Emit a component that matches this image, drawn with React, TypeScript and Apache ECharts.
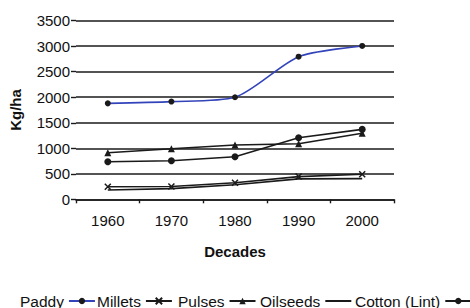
import React, { useEffect, useRef } from "react";
import * as echarts from "echarts";

const decades = ["1960", "1970", "1980", "1990", "2000"];
const seriesNames = ["Paddy", "Millets", "Pulses", "Oilseeds", "Cotton (Lint)"];
const paddy = [1880, 1915, 2000, 2795, 3005];
const millets = [247, 250, 325, 445, 490];
const pulses = [913, 990, 1065, 1090, 1295];
const oilseeds = [182, 210, 285, 400, 405];
const cotton = [737, 756, 835, 1205, 1370];
const yTicks = [0, 500, 1000, 1500, 2000, 2500, 3000, 3500];

const FONT = "'Liberation Sans', Arial, sans-serif";
const legendLefts = [20, 97, 178, 260, 355];

export default function App() {
  const ref = useRef<HTMLDivElement>(null);
  useEffect(() => {
    if (!ref.current) return;
    const chart = echarts.init(ref.current, null, { renderer: "svg" });
    const black = "#1a1a1a";
    const mk = (name: string, data: number[], symbol: string, color: string, smooth: any = false, size = 6, extra: any = {}, show = true) => ({
      name,
      type: "line",
      data,
      smooth,
      symbol,
      symbolSize: size,
      showSymbol: show,
      lineStyle: { color, width: 1.6 },
      itemStyle: { color: black, ...extra },
      z: 3,
    });
    chart.setOption({
      animation: false,
      textStyle: { fontFamily: FONT },
      grid: { left: 68, right: 76, top: 20.7, bottom: 308 - 199.3 },
      legend: seriesNames.map((n, i) => ({
        data: [n],
        left: legendLefts[i],
        top: 293,
        align: "right",
        itemWidth: 26,
        itemHeight: 8,
        padding: 0,
        textStyle: { fontSize: 15.5, color: "#111", fontFamily: FONT },
      })),
      xAxis: {
        type: "category",
        data: decades,
        boundaryGap: true,
        name: "Decades",
        nameLocation: "middle",
        nameGap: 45,
        nameTextStyle: { fontSize: 15, fontWeight: "bold", color: "#111", fontFamily: FONT },
        axisLine: { lineStyle: { color: black, width: 1.6 } },
        axisTick: { show: true, length: 4, lineStyle: { color: black, width: 1.4 } },
        axisLabel: { fontSize: 15, color: "#111", margin: 14, fontFamily: FONT },
      },
      yAxis: {
        type: "value",
        min: 0,
        max: 3500,
        interval: 500,
        name: "Kg/ha",
        nameLocation: "middle",
        nameGap: 53,
        nameRotate: 90,
        nameTextStyle: { fontSize: 15, fontWeight: "bold", color: "#111", fontFamily: FONT },
        axisLine: { show: false },
        axisTick: { show: true, length: 5, lineStyle: { color: black, width: 1.4 } },
        axisLabel: {
          fontSize: 15,
          color: "#111",
          margin: 6,
          fontFamily: FONT,
          formatter: (v: number) => (yTicks.includes(v) ? String(v) : ""),
        },
        splitLine: { show: true, lineStyle: { color: black, width: 1.6 } },
      },
      series: [
        mk(seriesNames[0], paddy, "circle", "#3344bb", 0.25, 6),
        mk(seriesNames[1], millets, "path://M0,0L10,10M10,0L0,10", black, false, 6, { borderColor: black, borderWidth: 1.5 }),
        mk(seriesNames[2], pulses, "triangle", black, false, 7),
        mk(seriesNames[3], oilseeds, "circle", black, false, 0, { color: "rgba(0,0,0,0)", borderColor: "rgba(0,0,0,0)", borderWidth: 0 }, false),
        mk(seriesNames[4], cotton, "circle", black, false, 7),
      ],
    });
    return () => chart.dispose();
  }, []);
  return (
    <div
      ref={ref}
      style={{ position: "fixed", left: 0, top: 0, width: 470, height: 308, background: "#fff" }}
    />
  );
}
